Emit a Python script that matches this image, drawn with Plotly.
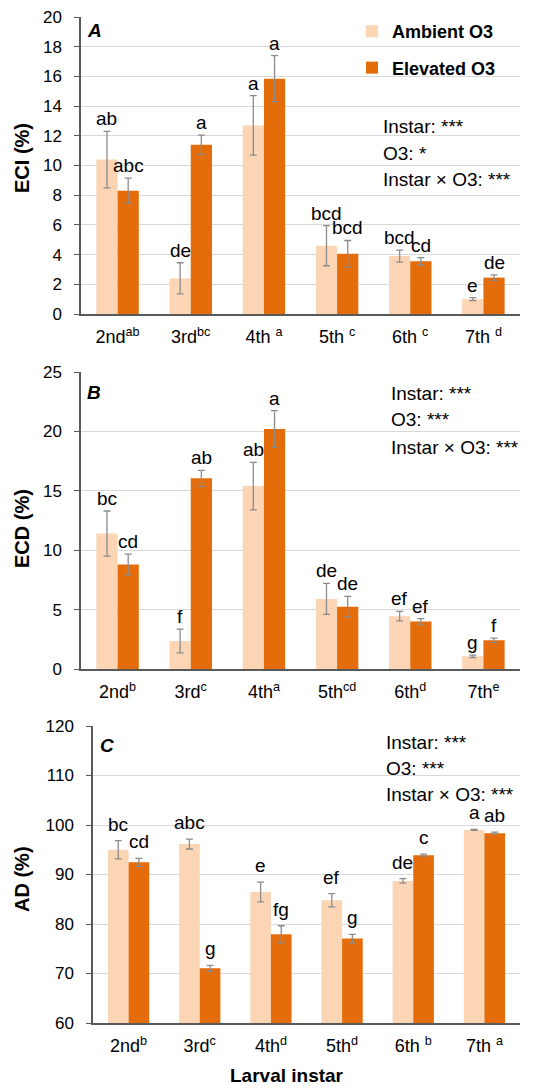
import plotly.graph_objects as go

# ---------------- data ----------------
instars = ["2nd", "3rd", "4th", "5th", "6th", "7th"]

eci_amb = [10.4, 2.4, 12.7, 4.6, 3.9, 1.0]
eci_amb_se = [1.9, 1.05, 2.0, 1.35, 0.4, 0.1]
eci_ele = [8.3, 11.4, 15.85, 4.05, 3.55, 2.45]
eci_ele_se = [0.85, 0.65, 1.55, 0.9, 0.25, 0.18]
eci_amb_letters = ["ab", "de", "a", "bcd", "bcd", "e"]
eci_ele_letters = ["abc", "a", "a", "bcd", "cd", "de"]
eci_ticks = ["2nd<sup>ab</sup>", "3rd<sup>bc</sup>", "4th <sup>a</sup>",
             "5th <sup>c</sup>", "6th <sup>c</sup>", "7th <sup>d</sup>"]
eci_stats = ["Instar: ***", "O3: *", "Instar × O3: ***"]

ecd_amb = [11.4, 2.35, 15.4, 5.9, 4.45, 1.07]
ecd_amb_se = [1.9, 1.0, 2.0, 1.3, 0.4, 0.1]
ecd_ele = [8.8, 16.05, 20.2, 5.25, 4.0, 2.42]
ecd_ele_se = [0.87, 0.67, 1.55, 0.87, 0.24, 0.18]
ecd_amb_letters = ["bc", "f", "ab", "de", "ef", "g"]
ecd_ele_letters = ["cd", "ab", "a", "de", "ef", "f"]
ecd_ticks = ["2nd<sup>b</sup>", "3rd<sup>c</sup>", "4th<sup>a</sup>",
             "5th<sup>cd</sup>", "6th<sup>d</sup>", "7th<sup>e</sup>"]
ecd_stats = ["Instar: ***", "O3: ***", "Instar × O3: ***"]

ad_amb = [95.0, 96.15, 86.45, 84.8, 88.7, 99.0]
ad_amb_se = [1.85, 1.0, 2.0, 1.35, 0.45, 0.1]
ad_ele = [92.45, 71.05, 77.95, 77.05, 93.9, 98.35]
ad_ele_se = [0.8, 0.6, 1.7, 0.85, 0.2, 0.2]
ad_amb_letters = ["bc", "abc", "e", "ef", "de", "a"]
ad_ele_letters = ["cd", "g", "fg", "g", "c", "ab"]
ad_ticks = ["2nd<sup>b</sup>", "3rd<sup>c</sup>", "4th<sup>d</sup>",
            "5th<sup>d</sup>", "6th <sup>b</sup>", "7th <sup>a</sup>"]
ad_stats = ["Instar: ***", "O3: ***", "Instar × O3: ***"]

series_names = ["Ambient O3", "Elevated O3"]
x_title = "Larval instar"

# ---------------- style ----------------
W, H = 542, 1088
FONT = "Liberation Sans, Arial, sans-serif"
C_AMB = "#FCD5B5"
C_ELE = "#E46C0A"
ERR_C = "#8C8C8C"
BARGAP = 0.42
OFF = (1 - BARGAP) / 4.0

panels = [
    dict(amb=eci_amb, amb_se=eci_amb_se, ele=eci_ele, ele_se=eci_ele_se,
         la=eci_amb_letters, le=eci_ele_letters, ticks=eci_ticks, stats=eci_stats,
         ytitle="ECI (%)", yr=[0, 20], dt=2, label="A",
         px=(81, 520), py=(17, 314), lab_xy=(94, 31), ytitle_y=158,
         stats_x=381, stats_y=[126, 153, 179], lshift=0),
    dict(amb=ecd_amb, amb_se=ecd_amb_se, ele=ecd_ele, ele_se=ecd_ele_se,
         la=ecd_amb_letters, le=ecd_ele_letters, ticks=ecd_ticks, stats=ecd_stats,
         ytitle="ECD (%)", yr=[0, 25], dt=5, label="B",
         px=(81, 520), py=(372, 669), lab_xy=(94, 392), ytitle_y=529,
         stats_x=389, stats_y=[394, 420, 447], lshift=0),
    dict(amb=ad_amb, amb_se=ad_amb_se, ele=ad_ele, ele_se=ad_ele_se,
         la=ad_amb_letters, le=ad_ele_letters, ticks=ad_ticks, stats=ad_stats,
         ytitle="AD (%)", yr=[60, 120], dt=10, label="C",
         px=(93, 520), py=(726, 1023), lab_xy=(107, 745), ytitle_y=879,
         stats_x=384, stats_y=[742, 768, 794], lshift=4),
]

fig = go.Figure()
annotations = []
xs = list(range(len(instars)))

for k, p in enumerate(panels):
    n = "" if k == 0 else str(k + 1)
    xa, ya = "x" + n, "y" + n
    for name, vals, se, col in [(series_names[0], p["amb"], p["amb_se"], C_AMB),
                                (series_names[1], p["ele"], p["ele_se"], C_ELE)]:
        fig.add_trace(go.Bar(
            x=xs, y=vals, name=name, marker=dict(color=col, line=dict(width=0)),
            error_y=dict(type="data", array=se, visible=True, color=ERR_C,
                         thickness=1.3, width=3.5),
            xaxis=xa, yaxis=ya, showlegend=(k == 0), legendgroup=name,
            hoverinfo="skip"))
    # letters
    for i in xs:
        for sign, vals, se, lets in [(-1, p["amb"], p["amb_se"], p["la"]),
                                     (1, p["ele"], p["ele_se"], p["le"])]:
            annotations.append(dict(
                x=i + sign * OFF, y=vals[i] + se[i], xref=xa, yref=ya,
                text=lets[i], showarrow=False, yanchor="bottom", xanchor="center",
                yshift=p["lshift"], font=dict(family=FONT, size=19, color="#000000")))
    # stats text
    for txt, sy in zip(p["stats"], p["stats_y"]):
        annotations.append(dict(
            x=p["stats_x"] / W, y=1 - sy / H, xref="paper", yref="paper",
            text=txt, showarrow=False, xanchor="left", yanchor="middle",
            font=dict(family=FONT, size=19, color="#000000")))
    # panel label
    annotations.append(dict(
        x=p["lab_xy"][0] / W, y=1 - p["lab_xy"][1] / H, xref="paper", yref="paper",
        text="<b><i>%s</i></b>" % p["label"], showarrow=False,
        xanchor="center", yanchor="middle",
        font=dict(family=FONT, size=19, color="#000000")))
    # y title
    annotations.append(dict(
        x=22 / W, y=1 - p["ytitle_y"] / H, xref="paper", yref="paper",
        text="<b>%s</b>" % p["ytitle"], showarrow=False, textangle=-90,
        xanchor="center", yanchor="middle",
        font=dict(family=FONT, size=20, color="#000000")))

    x_dom = [p["px"][0] / W, p["px"][1] / W]
    y_dom = [1 - p["py"][1] / H, 1 - p["py"][0] / H]
    fig.layout["xaxis" + n] = dict(
        domain=x_dom, anchor=ya, range=[-0.5, len(instars) - 0.5],
        tickmode="array", tickvals=xs, ticktext=p["ticks"],
        showline=True, linecolor="#595959", linewidth=1.5,
        ticks="", showgrid=False, zeroline=False, ticklabelstandoff=6,
        tickfont=dict(family=FONT, size=18, color="#000000"),
        automargin=False, fixedrange=True)
    fig.layout["yaxis" + n] = dict(
        domain=y_dom, anchor=xa, range=p["yr"], dtick=p["dt"],
        tick0=p["yr"][0], showline=True, linecolor="#595959", linewidth=1.5,
        ticks="outside", ticklen=5, tickcolor="#595959", tickwidth=1.3,
        ticklabelstandoff=9,
        showgrid=True, gridcolor="#D9D9D9", gridwidth=1.2, zeroline=False,
        tickfont=dict(family=FONT, size=17, color="#000000"),
        automargin=False, fixedrange=True)

annotations.append(dict(
    x=287 / W, y=0, xref="paper", yref="paper", text="<b>%s</b>" % x_title,
    showarrow=False, xanchor="center", yanchor="bottom",
    font=dict(family=FONT, size=19, color="#000000")))

fig.update_layout(
    template="none",
    width=W, height=H,
    margin=dict(l=0, r=0, t=0, b=0),
    paper_bgcolor="white", plot_bgcolor="white",
    barmode="group", bargap=BARGAP, bargroupgap=0,
    font=dict(family=FONT, color="#000000"),
    legend=dict(x=352 / W, y=1 - 13 / H, xanchor="left", yanchor="top",
                bgcolor="rgba(0,0,0,0)", traceorder="grouped",
                tracegroupgap=10,
                font=dict(family=FONT, size=18, color="#000000", weight="bold")),
    annotations=annotations,
)

fig.write_html("out.html", config={"displayModeBar": False},
               post_script="document.body.style.margin='0';document.body.style.overflow='hidden';")
